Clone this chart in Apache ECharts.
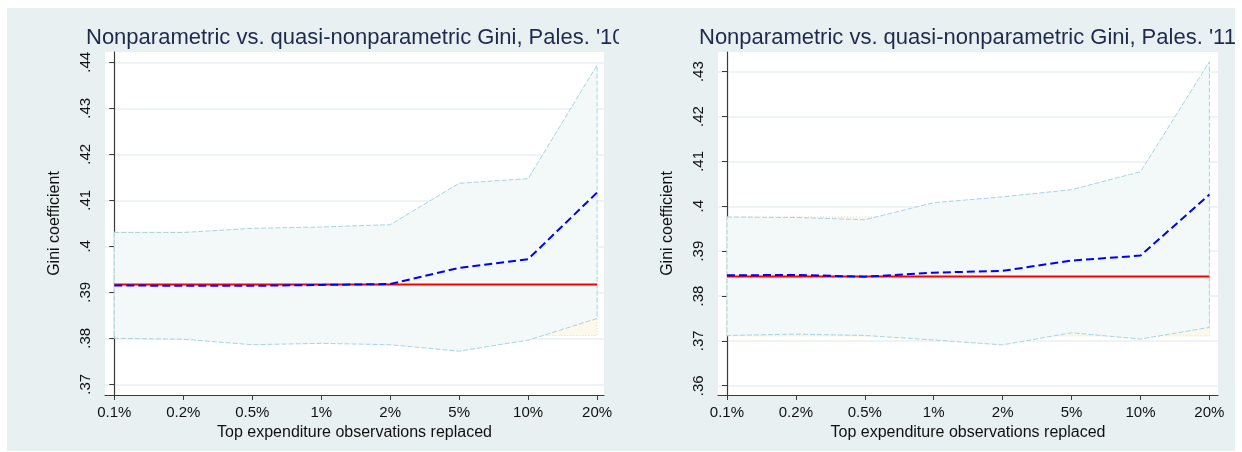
<!DOCTYPE html>
<html>
<head>
<meta charset="utf-8">
<script src="https://cdn.jsdelivr.net/npm/echarts@6/dist/echarts.min.js"></script>
<style>
  html, body { margin: 0; padding: 0; background: #ffffff; }
  #frame { position: absolute; left: 7px; top: 8px; width: 1228px; height: 443px; background: #e8f0f2; }
  .panel { position: absolute; top: 0; height: 452px; overflow: hidden; }
  #g10 { left: 7px; width: 612px; }
  #g11 { left: 619px; width: 616px; }
</style>
</head>
<body>
<div id="frame"></div>
<div id="g10" class="panel"></div>
<div id="g11" class="panel"></div>
<script>
// Share of top expenditure observations replaced
const categories = ['0.1%', '0.2%', '0.5%', '1%', '2%', '5%', '10%', '20%'];

// 2010: nonparametric Gini and its confidence band
const nonpar10   = [0.3917, 0.3917, 0.3917, 0.3917, 0.3917, 0.3917, 0.3917, 0.3917];
const nonparLo10 = [0.3806, 0.3806, 0.3806, 0.3806, 0.3806, 0.3806, 0.3806, 0.3806];
const nonparHi10 = [0.4031, 0.4031, 0.4031, 0.4031, 0.4031, 0.4031, 0.4031, 0.4031];
// 2010: quasi-nonparametric Gini and its confidence band
const quasi10    = [0.3915, 0.3914, 0.3914, 0.3916, 0.3918, 0.3953, 0.3972, 0.4117];
const quasiLo10  = [0.3800, 0.3798, 0.3786, 0.3789, 0.3786, 0.3772, 0.3796, 0.3843];
const quasiHi10  = [0.4030, 0.4030, 0.4039, 0.4042, 0.4047, 0.4137, 0.4147, 0.4394];

// 2011: nonparametric Gini and its confidence band
const nonpar11   = [0.38435, 0.38435, 0.38435, 0.38435, 0.38435, 0.38435, 0.38435, 0.38435];
const nonparLo11 = [0.3711, 0.3711, 0.3711, 0.3711, 0.3711, 0.3711, 0.3711, 0.3711];
const nonparHi11 = [0.3976, 0.3976, 0.3976, 0.3976, 0.3976, 0.3976, 0.3976, 0.3976];
// 2011: quasi-nonparametric Gini and its confidence band
const quasi11    = [0.3846, 0.3847, 0.3843, 0.3852, 0.3856, 0.3879, 0.3890, 0.4026];
const quasiLo11  = [0.3712, 0.3715, 0.3712, 0.3702, 0.3691, 0.3718, 0.3704, 0.3730];
const quasiHi11  = [0.3976, 0.3975, 0.3970, 0.4008, 0.4021, 0.4037, 0.4077, 0.4322];

// y tick labels
const yTicks10 = [0.37, 0.38, 0.39, 0.40, 0.41, 0.42, 0.43, 0.44];
const yTicks11 = [0.36, 0.37, 0.38, 0.39, 0.40, 0.41, 0.42, 0.43];

const FONT = 'Arial, "Liberation Sans", sans-serif';
const positions = categories.map((c, i) => i);

function pairs(values) {
  return values.map((v, i) => [i, v]);
}

// Shaded band drawn as one closed polygon through the axis scales
function band(lo, hi, fill, stroke, dash, z) {
  return {
    type: 'custom',
    z: z,
    silent: true,
    data: positions.map(i => [i, lo[i], hi[i]]),
    renderItem: function (params, api) {
      if (params.dataIndex !== 0) return null;
      const upper = hi.map((v, i) => api.coord([i, v]));
      const lower = lo.map((v, i) => api.coord([i, v])).reverse();
      return {
        type: 'polygon',
        shape: { points: upper.concat(lower) },
        style: { fill: fill, stroke: stroke, lineWidth: 1, lineDash: dash }
      };
    }
  };
}

function line(values, color, width, type, z) {
  return {
    type: 'line',
    z: z,
    data: pairs(values),
    symbol: 'none',
    silent: true,
    animation: false,
    lineStyle: { color: color, width: width, type: type }
  };
}

function tickText(v) {
  return String(+(+v).toFixed(2)).replace(/^0/, '');
}

function makeOption(cfg) {
  return {
    animation: false,
    title: {
      text: cfg.title,
      left: cfg.titleLeft,
      top: 22,
      padding: 5,
      textStyle: { fontFamily: FONT, fontSize: 22, fontWeight: 'normal', color: '#1e2a4c' }
    },
    grid: {
      left: cfg.gridLeft, top: 52, width: cfg.gridWidth, height: 343,
      show: true, backgroundColor: '#ffffff', borderWidth: 0
    },
    xAxis: {
      type: 'value',
      min: cfg.xMin, max: cfg.xMax,
      name: 'Top expenditure observations replaced',
      nameLocation: 'middle',
      nameGap: 24,
      nameTextStyle: { fontFamily: FONT, fontSize: 16, color: '#111111' },
      axisLine: { show: true, lineStyle: { color: '#3a3a3a', width: 1.2 } },
      axisTick: { show: true, length: 5, customValues: positions, lineStyle: { color: '#3a3a3a' } },
      axisLabel: {
        customValues: positions,
        margin: 10,
        fontFamily: FONT, fontSize: 15, color: '#111111',
        formatter: v => categories[Math.round(v)]
      },
      splitLine: { show: false }
    },
    yAxis: {
      type: 'value',
      min: cfg.yMin, max: cfg.yMax,
      name: 'Gini coefficient',
      nameLocation: 'middle',
      nameGap: 42,
      nameTextStyle: { fontFamily: FONT, fontSize: 16, color: '#111111' },
      axisLine: { show: true, lineStyle: { color: '#3a3a3a', width: 1.2 } },
      axisTick: { show: true, length: 5, customValues: cfg.yTicks, lineStyle: { color: '#3a3a3a' } },
      axisLabel: {
        customValues: cfg.yTicks,
        rotate: 90,
        margin: 12,
        fontFamily: FONT, fontSize: 15, color: '#111111',
        formatter: tickText
      },
      splitLine: { show: true, lineStyle: { color: '#e8f0f2', width: 1.5 } }
    },
    series: [
      band(cfg.nonparLo, cfg.nonparHi, '#fdf8ec', '#f1d9a8', [1, 2], 2),
      band(cfg.quasiLo, cfg.quasiHi, '#f3f8f9', '#a9d4e2', [5, 2], 3),
      line(cfg.nonpar, '#ff0000', 2, 'solid', 4),
      line(cfg.quasi, '#0000ff', 2, [8, 4], 5)
    ]
  };
}

echarts.init(document.getElementById('g10')).setOption(makeOption({
  title: "Nonparametric vs. quasi-nonparametric Gini, Pales. '10",
  titleLeft: 74,
  gridLeft: 98, gridWidth: 499,
  xMin: -0.135, xMax: 7.1,
  yMin: 0.36767, yMax: 0.44224,
  yTicks: yTicks10,
  nonpar: nonpar10, nonparLo: nonparLo10, nonparHi: nonparHi10,
  quasi: quasi10, quasiLo: quasiLo10, quasiHi: quasiHi10
}));

echarts.init(document.getElementById('g11')).setOption(makeOption({
  title: "Nonparametric vs. quasi-nonparametric Gini, Pales. '11",
  titleLeft: 75,
  gridLeft: 99, gridWidth: 500,
  xMin: -0.13, xMax: 7.125,
  yMin: 0.35793, yMax: 0.43439,
  yTicks: yTicks11,
  nonpar: nonpar11, nonparLo: nonparLo11, nonparHi: nonparHi11,
  quasi: quasi11, quasiLo: quasiLo11, quasiHi: quasiHi11
}));
</script>
</body>
</html>
